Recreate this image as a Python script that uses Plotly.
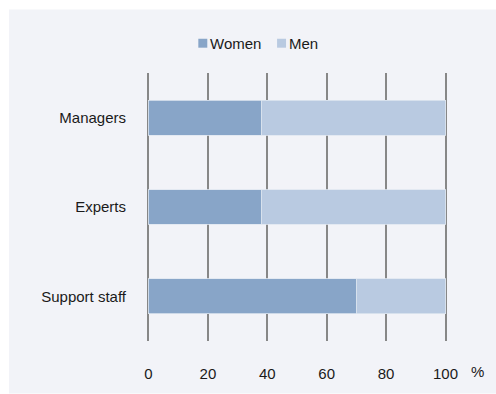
import plotly.graph_objects as go

# Share of women and men by staff group (%)
categories = ["Managers", "Experts", "Support staff"]
women = [38, 38, 70]
men = [62, 62, 30]
series_names = ["Women", "Men"]
series_colors = ["#88a5c8", "#b9cae1"]
x_ticks = [0, 20, 40, 60, 80, 100]

FONT = "Liberation Sans, Arial, sans-serif"
TEXT = "#1a1a1a"
GRID = "#878787"

fig = go.Figure()
for name, vals, col in zip(series_names, [women, men], series_colors):
    fig.add_trace(go.Bar(
        y=categories, x=vals, name=name, orientation="h",
        marker=dict(color=col, line=dict(color="#dfe6f0", width=0.8)),
        width=0.39, showlegend=False,
    ))

# x range padded a little so the gridlines at 0 and 100 both sit inside the plot
PAD = 0.5
x_range = [-PAD, 100 + PAD]

# plot area geometry (px): value 0 at x=148, value 100 at x=446
W, H = 496, 394
unit = 298 / 100
L = round(148 - PAD * unit, 2)
pw = (100 + 2 * PAD) * unit
R = W - L - pw
T, B = 73, 51
ph = H - T - B

def px_x(p):
    return (p - L) / pw

def px_y(p):
    return (H - B - p) / ph

shapes = [dict(type="rect", xref="paper", yref="paper",
               x0=px_x(8), x1=px_x(W + 2), y0=px_y(H + 2), y1=px_y(9),
               fillcolor="#f2f3f8", line=dict(width=0), layer="below")]
annotations = []

# legend: swatch + label per series
leg_x = [198, 277]
for name, col, x0 in zip(series_names, series_colors, leg_x):
    shapes.append(dict(type="rect", xref="paper", yref="paper",
                       x0=px_x(x0), x1=px_x(x0 + 9), y0=px_y(47.5), y1=px_y(38.5),
                       fillcolor=col, line=dict(width=0)))
    annotations.append(dict(xref="paper", yref="paper", x=px_x(x0 + 10), y=px_y(43),
                            text=name, showarrow=False, xanchor="left", yanchor="middle",
                            font=dict(family=FONT, size=15, color=TEXT)))

annotations.append(dict(xref="paper", yref="paper", x=px_x(478), y=px_y(374),
                        text="%", showarrow=False, xanchor="center", yanchor="middle",
                        font=dict(family=FONT, size=15, color=TEXT)))

fig.update_layout(
    barmode="stack",
    width=W, height=H,
    margin=dict(l=L, r=R, t=T, b=B),
    paper_bgcolor="white",
    plot_bgcolor="rgba(0,0,0,0)",
    font=dict(family=FONT, size=15, color=TEXT),
    shapes=shapes,
    annotations=annotations,
    xaxis=dict(range=x_range, tickvals=x_ticks, showgrid=True, gridcolor=GRID,
               gridwidth=2, zeroline=False,
               showline=False, ticks="", ticklabelstandoff=22,
               tickfont=dict(family=FONT, size=15, color=TEXT), fixedrange=True),
    yaxis=dict(autorange="reversed", showgrid=False, zeroline=False, showline=False,
               ticks="", ticklabelstandoff=20,
               tickfont=dict(family=FONT, size=15, color=TEXT), fixedrange=True),
)

fig.write_html("out.html")
